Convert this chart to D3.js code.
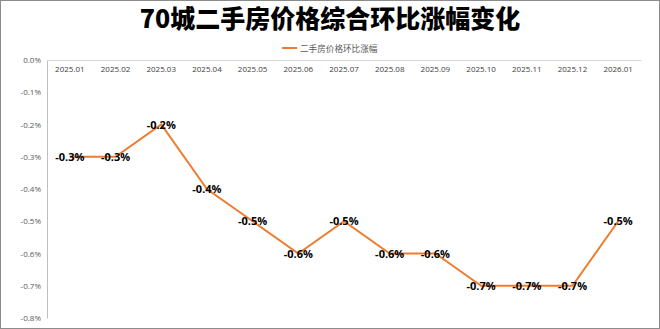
<!DOCTYPE html>
<html><head><meta charset="utf-8">
<script src="https://cdn.jsdelivr.net/npm/d3@7"></script>
<style>body{margin:0;background:#fff}svg{display:block}</style>
</head><body>
<svg id="c" width="660" height="329"></svg>
<script>
const title = "70城二手房价格综合环比涨幅变化";
const seriesName = "二手房价格环比涨幅";
const categories = ["2025.01","2025.02","2025.03","2025.04","2025.05","2025.06","2025.07","2025.08","2025.09","2025.10","2025.11","2025.12","2026.01"];
const values = [-0.3,-0.3,-0.2,-0.4,-0.5,-0.6,-0.5,-0.6,-0.6,-0.7,-0.7,-0.7,-0.5];
const yTicks = [0,-0.1,-0.2,-0.3,-0.4,-0.5,-0.6,-0.7,-0.8];

const svg = d3.select("#c");
const W = 660, H = 329;
const m = {left:47, right:19, top:60, bottom:11};
const fmt = v => (v===0 ? "0.0" : (v<0?"-":"") + Math.abs(v).toFixed(1)) + "%";

svg.append("rect").attr("x",0.5).attr("y",0.5).attr("width",W-1).attr("height",H-1)
  .attr("fill","#fff").attr("stroke","#8c8c8c");

const x = d3.scaleBand().domain(categories).range([m.left, W-m.right]);
const y = d3.scaleLinear().domain([-0.8,0]).range([H-m.bottom, m.top]);

svg.append("text").attr("x",W/2).attr("y",28).attr("text-anchor","middle")
  .attr("font-family","'Noto Sans CJK SC'").attr("font-weight",900).attr("font-size",25)
  .attr("fill","#000").text(title);

// legend
svg.append("line").attr("x1",282).attr("x2",297).attr("y1",48).attr("y2",48)
  .attr("stroke","#ED7D31").attr("stroke-width",2);
svg.append("text").attr("x",300).attr("y",51.5).attr("font-family","'Noto Sans CJK SC'")
  .attr("font-size",8.6).attr("fill","#595959").text(seriesName);

// y axis
const ya = svg.append("g").attr("transform",`translate(${m.left},0)`)
  .call(d3.axisLeft(y).tickValues(yTicks).tickSize(0).tickPadding(6).tickFormat(fmt));
ya.select(".domain").attr("stroke","#bfbfbf");
ya.selectAll("text").attr("font-family","'Open Sans'").attr("font-size",8).attr("fill","#595959");

// x axis on top at 0
const xa = svg.append("g").attr("transform",`translate(0,${y(0)})`)
  .call(d3.axisBottom(x).tickSize(0).tickPadding(6));
xa.select(".domain").attr("stroke","#d9d9d9");
xa.selectAll("text").attr("font-family","'Open Sans'").attr("font-size",8).attr("fill","#404040");

const pts = categories.map((c,i)=>({c, v:values[i]}));
const line = d3.line().x(d=>x(d.c)+x.bandwidth()/2).y(d=>y(d.v));
svg.append("path").datum(pts).attr("d",line).attr("fill","none")
  .attr("stroke","#ED7D31").attr("stroke-width",2);

svg.selectAll(".lbl").data(pts).enter().append("text")
  .attr("x",d=>x(d.c)+x.bandwidth()/2).attr("y",d=>y(d.v)+4)
  .attr("text-anchor","middle").attr("font-family","'Open Sans'").attr("font-weight",700)
  .attr("font-size",11).attr("fill","#000").text(d=>fmt(d.v));
</script>
</body></html>
